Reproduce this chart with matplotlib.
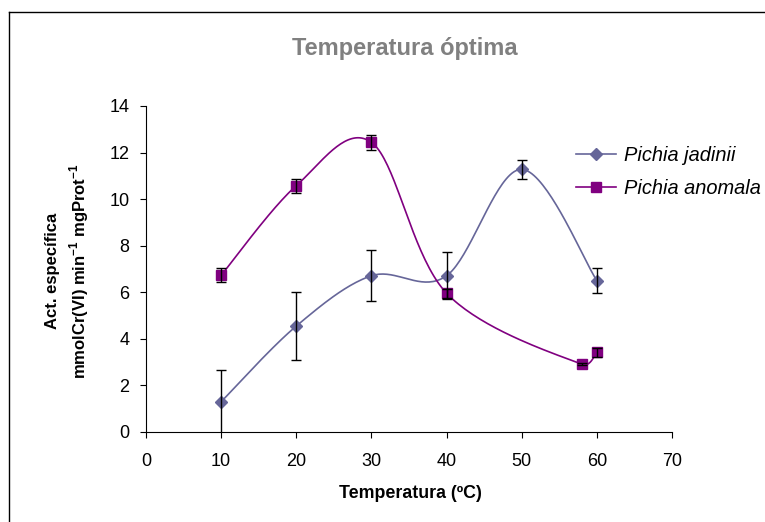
import numpy as np
import matplotlib
matplotlib.use('Agg')
import matplotlib.pyplot as plt
from matplotlib.lines import Line2D

plt.rcParams['font.family'] = ['Liberation Sans', 'DejaVu Sans']
plt.rcParams['mathtext.fontset'] = 'custom'
plt.rcParams['mathtext.rm'] = 'Liberation Sans'
plt.rcParams['mathtext.bf'] = 'Liberation Sans:bold'

# data
jad_x = [10, 20, 30, 40, 50, 60]
jad_y = [1.30, 4.55, 6.71, 6.71, 11.28, 6.50]
jad_err = [1.35, 1.45, 1.10, 1.00, 0.40, 0.55]

ano_x = [10, 20, 30, 40, 58, 60]
ano_y = [6.73, 10.58, 12.44, 5.96, 2.91, 3.42]
ano_err = [0.30, 0.30, 0.33, 0.20, 0.05, 0.20]

x_ticks = [0, 10, 20, 30, 40, 50, 60, 70]
y_ticks = [0, 2, 4, 6, 8, 10, 12, 14]

JAD_COLOR = '#666699'
ANO_COLOR = '#800080'

# approx px per data unit, so the smoothing works in screen space
SX, SY = 526 / 70, 326 / 14


def smooth(xs, ys, n=40):
    # excel-like smoothed line: bezier, arms clamped to half the segment
    p = np.column_stack([np.array(xs) * SX, np.array(ys) * SY])
    m = len(p)
    left = np.zeros_like(p)
    right = np.zeros_like(p)
    for i in range(m):
        a = p[max(i - 1, 0)]
        b = p[min(i + 1, m - 1)]
        arm = (b - a) / 6.0
        la = np.hypot(*arm)
        if la == 0:
            continue
        d_prev = np.hypot(*(p[i] - a))
        d_next = np.hypot(*(b - p[i]))
        right[i] = arm * min(1.0, d_next / 2 / la)
        left[i] = arm * min(1.0, d_prev / 2 / la)
    out = []
    t = np.linspace(0, 1, n)[:, None]
    for i in range(m - 1):
        p0, p3 = p[i], p[i + 1]
        c1 = p0 + right[i]
        c2 = p3 - left[i + 1]
        seg = ((1 - t) ** 3) * p0 + 3 * ((1 - t) ** 2) * t * c1 \
            + 3 * (1 - t) * t ** 2 * c2 + t ** 3 * p3
        out.append(seg if i == 0 else seg[1:])
    out = np.vstack(out)
    return out[:, 0] / SX, out[:, 1] / SY


fig = plt.figure(figsize=(7.65, 5.22), dpi=100)
ax = fig.add_axes([146 / 765, 1 - 432 / 522, 526 / 765, 326 / 522])

# outer chart border (only left and top visible)
fig.add_artist(Line2D([9 / 765, 9 / 765], [0, 1 - 12 / 522], color='black', lw=1.0))
fig.add_artist(Line2D([9 / 765, 1], [1 - 12 / 522, 1 - 12 / 522], color='black', lw=1.0))

sx, sy = smooth(jad_x, jad_y)
ax.plot(sx, sy, color=JAD_COLOR, lw=1.2, zorder=2)
ax.plot(jad_x, jad_y, 'D', color=JAD_COLOR, ms=6.5, zorder=3)
ax.errorbar(jad_x, jad_y, yerr=jad_err, fmt='none', ecolor='black',
            elinewidth=1.0, capsize=3.6, capthick=1.0, zorder=4)

sx, sy = smooth(ano_x, ano_y)
ax.plot(sx, sy, color=ANO_COLOR, lw=1.2, zorder=2)
ax.plot(ano_x, ano_y, 's', color=ANO_COLOR, ms=7, zorder=3)
ax.errorbar(ano_x, ano_y, yerr=ano_err, fmt='none', ecolor='black',
            elinewidth=1.0, capsize=3.6, capthick=1.0, zorder=4)

ax.set_xlim(0, 70)
ax.set_ylim(0, 14)
ax.set_xticks(x_ticks)
ax.set_yticks(y_ticks)
ax.tick_params(direction='out', length=4, width=0.8, labelsize=13, pad=8)
ax.tick_params(axis='x', pad=11)
for s in ['top', 'right']:
    ax.spines[s].set_visible(False)
for s in ['left', 'bottom']:
    ax.spines[s].set_linewidth(0.8)

fig.text(405 / 765, 1 - 48 / 522, 'Temperatura óptima', ha='center', va='center',
         fontsize=17, fontweight='bold', color='#808080')
fig.text(410 / 765, 1 - 493 / 522, 'Temperatura (ºC)', ha='center', va='center',
         fontsize=12.8, fontweight='bold')
fig.text(68 / 765, 1 - 271 / 522,
         'Act. específica\nmmolCr(VI) min$^{\\mathbf{-1}}$ mgProt$^{\\mathbf{-1}}$',
         ha='center', va='center', rotation=90, fontsize=12, fontweight='bold',
         linespacing=1.45)

handles = [Line2D([], [], color=JAD_COLOR, lw=1.2, marker='D', ms=6.5),
           Line2D([], [], color=ANO_COLOR, lw=1.2, marker='s', ms=7)]
fig.legend(handles, ['Pichia jadinii', 'Pichia anomala'], loc='upper left',
           bbox_to_anchor=(568 / 765, 1 - 138 / 522), frameon=False,
           prop={'style': 'italic', 'size': 14.4}, handlelength=2.0,
           handletextpad=0.4, labelspacing=0.68, borderaxespad=0)

fig.savefig('out.png', dpi=100)
